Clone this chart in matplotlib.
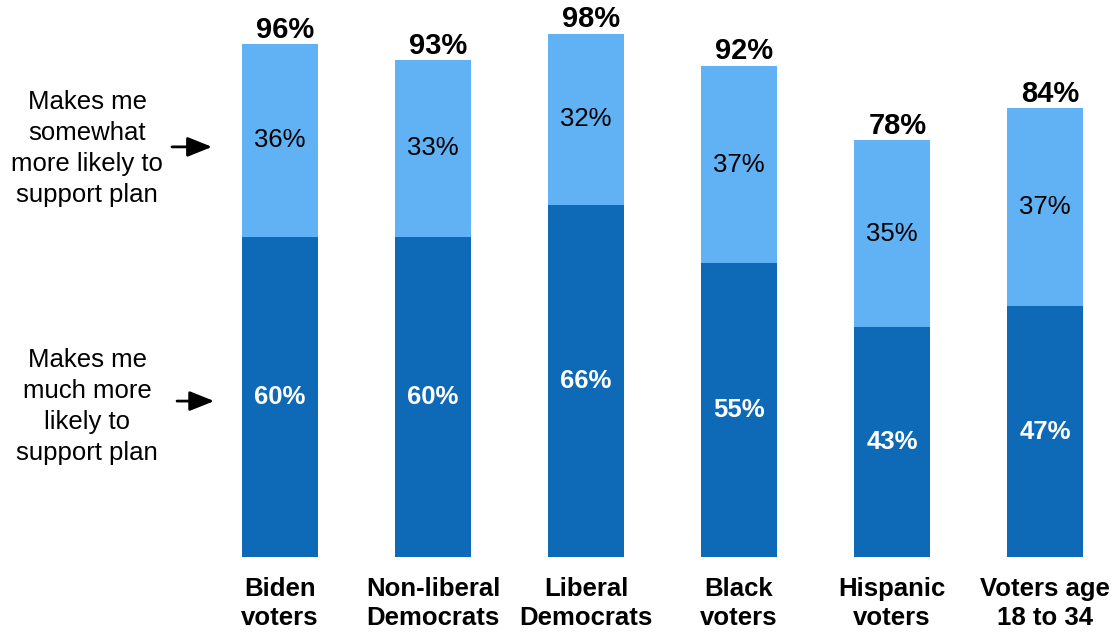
from matplotlib import pyplot as plt

categories = ["Biden\nvoters", "Non-liberal\nDemocrats", "Liberal\nDemocrats",
              "Black\nvoters", "Hispanic\nvoters", "Voters age\n18 to 34"]
much_more = [60, 60, 66, 55, 43, 47]
somewhat_more = [36, 33, 32, 37, 35, 37]
totals = [96, 93, 98, 92, 78, 84]

dark_blue = "#0E69B6"
light_blue = "#61B1F5"

plt.rcParams['font.family'] = ['Liberation Sans', 'DejaVu Sans']


def main():
    fig = plt.figure(figsize=(11.14, 6.32), dpi=100)
    ax = fig.add_axes([0, 0, 1, 1])
    x = list(range(len(categories)))

    ax.bar(x, much_more, 0.5, color=dark_blue)
    ax.bar(x, somewhat_more, 0.5, bottom=much_more, color=light_blue)

    for i in x:
        ax.text(i, much_more[i] / 2, f"{much_more[i]}%", ha='center', va='center',
                color='white', fontsize=18.5, fontweight='bold')
        ax.text(i, much_more[i] + somewhat_more[i] / 2, f"{somewhat_more[i]}%",
                ha='center', va='center', color='black', fontsize=18.5)
        ax.annotate(f"{totals[i]}%", (i, much_more[i] + somewhat_more[i]),
                    xytext=(4, 0.5), textcoords='offset points', ha='center', va='bottom',
                    fontsize=21, fontweight='bold')
        ax.text(i, -8.7, categories[i], ha='center', va='center', fontsize=18.5,
                fontweight='bold', linespacing=1.28)

    # side labels with arrows
    ax.text(-1.261, 76.5, "Makes me\nsomewhat\nmore likely to\nsupport plan",
            ha='center', va='center', fontsize=18.5, linespacing=1.38)
    ax.text(-1.261, 28.2, "Makes me\nmuch more\nlikely to\nsupport plan",
            ha='center', va='center', fontsize=18.5, linespacing=1.38)
    arrow = dict(arrowstyle='-|>,head_length=0.75,head_width=0.3', color='black',
                 lw=2, mutation_scale=20, shrinkA=0, shrinkB=0)
    ax.annotate("", xy=(-0.444, 76.8), xytext=(-0.706, 76.8), arrowprops=arrow)
    ax.annotate("", xy=(-0.43, 29.2), xytext=(-0.673, 29.2), arrowprops=arrow)

    ax.set_xlim(-280 / 153, (1114 - 280) / 153)
    ax.set_ylim(-75 / 5.34, 557 / 5.34)
    ax.axis('off')
    fig.savefig("out.png", dpi=100)


if __name__ == '__main__':
    main()
